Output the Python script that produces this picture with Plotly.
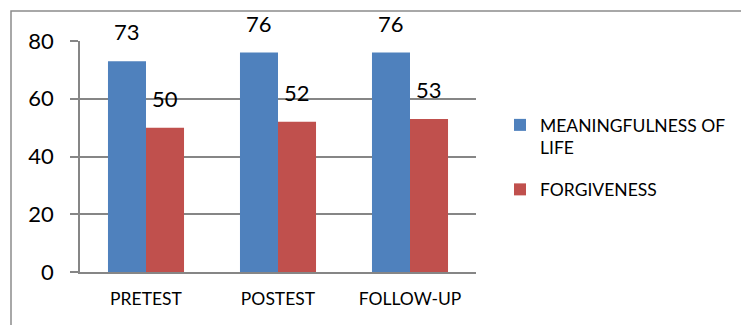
import plotly.graph_objects as go

# Scores per phase
phases = ["PRETEST", "POSTEST", "FOLLOW-UP"]
meaningfulness = [73, 76, 76]
forgiveness = [50, 52, 53]
y_ticks = [0, 20, 40, 60, 80]

BLUE = "#4F81BD"
RED = "#C0504D"
GRID = "#868686"
FONT = "Lato"

fig = go.Figure()
fig.add_trace(go.Bar(x=phases, y=meaningfulness, name="MEANINGFULNESS OF<br>LIFE",
                     legendgroup="m", marker=dict(color=BLUE, line=dict(width=0))))
fig.add_trace(go.Bar(x=phases, y=forgiveness, name="FORGIVENESS",
                     legendgroup="f", marker=dict(color=RED, line=dict(width=0))))

# value labels above each bar
for vals, off in ((meaningfulness, -0.145), (forgiveness, 0.145)):
    for i, v in enumerate(vals):
        fig.add_annotation(x=i + off, y=v, text=str(v), showarrow=False,
                           xref="x", yref="y", yanchor="bottom", yshift=14,
                           font=dict(family=FONT, size=22, color="black"))

# outer frame
fig.add_shape(type="rect", xref="paper", yref="paper",
              x0=(11 - 80) / 396, x1=3, y0=-3, y1=1 + (41 - 11) / 231,
              line=dict(color="#8C8C8C", width=1.5), fillcolor="rgba(0,0,0,0)")

fig.update_layout(
    width=741, height=325,
    margin=dict(l=80, r=265, t=41, b=53, autoexpand=False),
    paper_bgcolor="white", plot_bgcolor="white",
    barmode="group", bargap=0.424, bargroupgap=0,
    font=dict(family=FONT, color="black"),
    showlegend=True,
    legend=dict(x=(500 - 80) / 396, y=(272 - 107) / 231, xanchor="left", yanchor="top",
                font=dict(family=FONT, size=17.5, color="black"),
                traceorder="grouped", tracegroupgap=16, itemwidth=30, valign="top"),
    xaxis=dict(showgrid=False, showline=True, linecolor=GRID, linewidth=1.5,
               ticks="", tickfont=dict(family=FONT, size=17.5), ticklabelstandoff=10),
    yaxis=dict(range=[0, 80], tickvals=y_ticks, showgrid=True, gridcolor=GRID,
               gridwidth=1.5, showline=True, linecolor=GRID, linewidth=1.5,
               ticks="outside", ticklen=8, tickcolor=GRID, tickwidth=1.5,
               tickfont=dict(family=FONT, size=22), ticklabelstandoff=12,
               zeroline=False),
)

fig.write_html("out.html")
